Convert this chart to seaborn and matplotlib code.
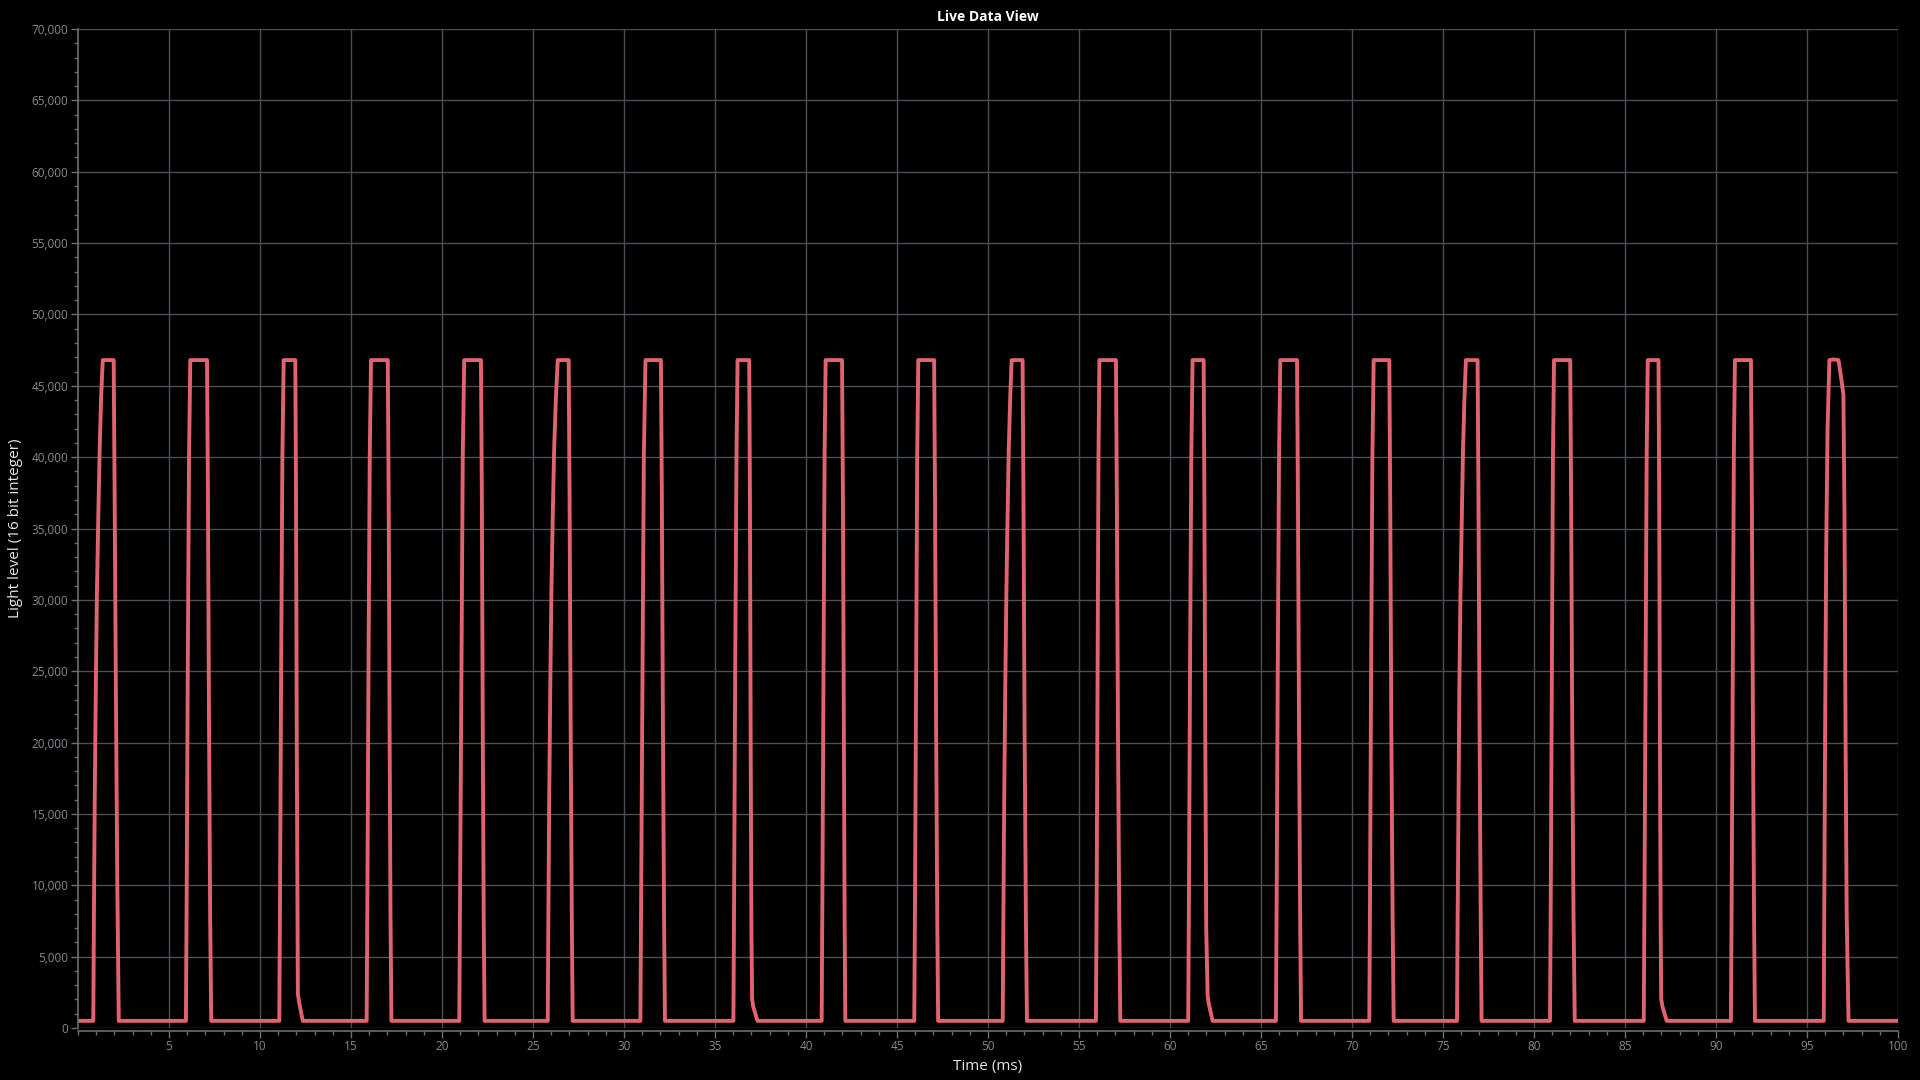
import matplotlib
matplotlib.use("Agg")
import pandas as pd
from matplotlib import pyplot as plt
from matplotlib.ticker import FuncFormatter, MultipleLocator
import seaborn as sns

# light sensor trace, one list of vertices per pulse (time in ms, level in counts)
pulse_times = [
    [0.84, 0.87, 0.92, 0.98, 1.04, 1.11, 1.19, 1.27, 1.36, 1.96, 2.01, 2.08, 2.16, 2.24],
    [5.93, 5.97, 6.03, 6.10, 6.17, 7.09, 7.14, 7.20, 7.26, 7.32],
    [11.06, 11.10, 11.16, 11.23, 11.30, 11.94, 11.98, 12.02, 12.06, 12.08, 12.15, 12.35],
    [15.86, 15.90, 15.96, 16.03, 16.10, 17.02, 17.07, 17.12, 17.17, 17.22],
    [20.95, 20.99, 21.06, 21.14, 21.22, 22.14, 22.19, 22.24, 22.29, 22.34],
    [25.81, 25.84, 25.89, 25.95, 26.01, 26.08, 26.16, 26.26, 26.36, 26.96, 27.01, 27.07, 27.13, 27.18],
    [30.90, 30.94, 31.01, 31.09, 31.18, 32.03, 32.08, 32.14, 32.20, 32.25],
    [36.01, 36.05, 36.11, 36.18, 36.24, 36.88, 36.92, 36.96, 37.00, 37.04, 37.10, 37.33],
    [40.86, 40.90, 40.96, 41.02, 41.08, 41.98, 42.03, 42.08, 42.12, 42.16],
    [45.95, 45.99, 46.05, 46.11, 46.17, 47.04, 47.09, 47.15, 47.21, 47.26],
    [50.81, 50.84, 50.89, 50.95, 51.01, 51.07, 51.14, 51.22, 51.30, 51.90, 51.95, 52.01, 52.08, 52.14],
    [55.93, 55.97, 56.02, 56.07, 56.12, 57.03, 57.08, 57.14, 57.21, 57.27],
    [61.00, 61.04, 61.10, 61.17, 61.24, 61.85, 61.89, 61.94, 61.99, 62.07, 62.13, 62.34],
    [65.82, 65.86, 65.92, 65.99, 66.06, 66.98, 67.03, 67.09, 67.15, 67.20],
    [70.95, 70.99, 71.05, 71.12, 71.19, 72.05, 72.10, 72.16, 72.23, 72.29],
    [75.77, 75.80, 75.85, 75.90, 75.96, 76.03, 76.10, 76.18, 76.26, 76.90, 76.95, 77.01, 77.07, 77.12],
    [80.88, 80.92, 80.98, 81.04, 81.10, 81.99, 82.04, 82.10, 82.17, 82.24],
    [86.03, 86.07, 86.13, 86.19, 86.25, 86.84, 86.88, 86.92, 86.96, 86.99, 87.06, 87.29],
    [90.82, 90.86, 90.92, 90.98, 91.04, 91.92, 91.97, 92.03, 92.09, 92.14],
    [95.92, 95.95, 96.00, 96.06, 96.13, 96.23, 96.45, 96.73, 96.86, 97.00, 97.06, 97.12, 97.18, 97.28],
]
pulse_levels = [
    [500, 7000, 16000, 24000, 30500, 35500, 40500, 44200, 46800, 46800, 38000, 24000, 10000, 500],
    [500, 9000, 25000, 40000, 46800, 46800, 37000, 21000, 8000, 500],
    [500, 9000, 25000, 40000, 46800, 46800, 37000, 20000, 7000, 2400, 1800, 500],
    [500, 9000, 25000, 40000, 46800, 46800, 37000, 21000, 8000, 500],
    [500, 9000, 25000, 40000, 46800, 46800, 37000, 21000, 8000, 500],
    [500, 7000, 16000, 24000, 30500, 35500, 40500, 44200, 46800, 46800, 37000, 21000, 8000, 500],
    [500, 9000, 25000, 40000, 46800, 46800, 37000, 21000, 8000, 500],
    [500, 9000, 25000, 40000, 46800, 46800, 37000, 20000, 7000, 2000, 1500, 500],
    [500, 9000, 25000, 40000, 46800, 46800, 37000, 21000, 8000, 500],
    [500, 9000, 25000, 40000, 46800, 46800, 37000, 21000, 8000, 500],
    [500, 7000, 16000, 24000, 30500, 35500, 40500, 44200, 46800, 46800, 37000, 21000, 8000, 500],
    [500, 9000, 25000, 40000, 46800, 46800, 37000, 21000, 8000, 500],
    [500, 9000, 25000, 40000, 46800, 46800, 37000, 20000, 7000, 2200, 1700, 500],
    [500, 9000, 25000, 40000, 46800, 46800, 37000, 21000, 8000, 500],
    [500, 9000, 25000, 40000, 46800, 46800, 37000, 21000, 8000, 500],
    [500, 7000, 16000, 24000, 30500, 35500, 40500, 44200, 46800, 46800, 37000, 21000, 8000, 500],
    [500, 9000, 25000, 40000, 46800, 46800, 37000, 21000, 8000, 500],
    [500, 9000, 25000, 40000, 46800, 46800, 37000, 20000, 7000, 2000, 1500, 500],
    [500, 9000, 25000, 40000, 46800, 46800, 37000, 21000, 8000, 500],
    [500, 9000, 22000, 34000, 42000, 46800, 46850, 46800, 45700, 44400, 36000, 20000, 8000, 500],
]
trace_start = (0.05, 500)
trace_end = (100.0, 500)

x_ticks = list(range(5, 101, 5))
y_ticks = list(range(0, 70001, 5000))

# build one long trace
t_all = [trace_start[0]]
v_all = [trace_start[1]]
for ts, vs in zip(pulse_times, pulse_levels):
    assert len(ts) == len(vs)
    t_all += ts
    v_all += vs
t_all.append(trace_end[0])
v_all.append(trace_end[1])
trace_df = pd.DataFrame({'time': t_all, 'level': v_all})

grid_col = '#4b4e55'
spine_col = '#6a6d73'
tick_col = '#878a90'

sns.set_theme(style='darkgrid', rc={
    'figure.facecolor': 'black',
    'axes.facecolor': 'black',
    'grid.color': grid_col,
    'grid.linewidth': 1.0,
    'axes.edgecolor': spine_col,
})
plt.rcParams['font.family'] = ['Open Sans', 'DejaVu Sans']

fig = plt.figure(figsize=(19.2, 10.8), dpi=100)
ax = fig.add_axes([78 / 1920, 1 - 1028 / 1080, 1820 / 1920, 999 / 1080])

sns.lineplot(data=trace_df, x='time', y='level', ax=ax, color='#e0646f',
             linewidth=2.8, estimator=None, sort=False)

ax.set_xlim(0, 100)
ax.set_ylim(0, 70000)
ax.set_xticks(x_ticks)
ax.set_yticks(y_ticks)
ax.xaxis.set_minor_locator(MultipleLocator(1))
ax.yaxis.set_minor_locator(MultipleLocator(1000))
ax.yaxis.set_major_formatter(FuncFormatter(lambda v, p: f'{int(v):,}'))
ax.grid(True, which='major', color=grid_col, linewidth=1.0)
ax.grid(False, which='minor')

for s in ['top', 'right']:
    ax.spines[s].set_visible(False)
for s in ['left', 'bottom']:
    ax.spines[s].set_visible(True)
    ax.spines[s].set_color(spine_col)
    ax.spines[s].set_linewidth(1.2)
ax.spines['bottom'].set_position(('outward', 2))

ax.tick_params(axis='both', which='major', length=5, width=1, color=spine_col,
               labelcolor=tick_col, labelsize=8.5, direction='out', pad=2)
ax.tick_params(axis='both', which='minor', length=3, width=1, color=spine_col,
               direction='out')
ax.tick_params(axis='x', which='both', bottom=True)
ax.tick_params(axis='y', which='both', left=True)

ax.set_title('Live Data View', color='white', fontsize=10, fontweight='bold', pad=6)
ax.set_xlabel('Time (ms)', color='#e6e6e6', fontsize=11, labelpad=4)
ax.set_ylabel('Light level (16 bit integer)', color='#e6e6e6', fontsize=11, labelpad=6)

plt.savefig('out.png', dpi=100, facecolor='black')
